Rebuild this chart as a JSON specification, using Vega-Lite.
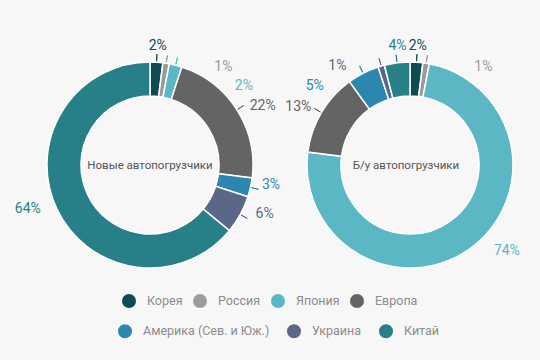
{
  "$schema": "https://vega.github.io/schema/vega-lite/v6.json",
  "background": "#f7f7f7",
  "padding": {"left": 0, "top": 0, "right": 20, "bottom": 22},
  "bounds": "flush",
  "spacing": 0,
  "config": {
    "view": {"stroke": null},
    "text": {"font": "Roboto"}
  },
  "datasets": {
    "newTrucks": [
      {"cat": "Корея", "i": 1, "v": 0.02},
      {"cat": "Россия", "i": 2, "v": 0.01},
      {"cat": "Япония", "i": 3, "v": 0.02},
      {"cat": "Европа", "i": 4, "v": 0.22},
      {"cat": "Америка (Сев. и Юж.)", "i": 5, "v": 0.03},
      {"cat": "Украина", "i": 6, "v": 0.06},
      {"cat": "Китай", "i": 7, "v": 0.64}
    ],
    "usedTrucks": [
      {"cat": "Корея", "i": 1, "v": 0.02},
      {"cat": "Россия", "i": 2, "v": 0.01},
      {"cat": "Япония", "i": 3, "v": 0.74},
      {"cat": "Европа", "i": 4, "v": 0.13},
      {"cat": "Америка (Сев. и Юж.)", "i": 5, "v": 0.05},
      {"cat": "Украина", "i": 6, "v": 0.01},
      {"cat": "Китай", "i": 7, "v": 0.04}
    ]
  },
  "resolve": {
    "scale": {"color": "shared", "stroke": "shared"},
    "legend": {"color": "shared", "stroke": "shared"}
  },
  "hconcat": [
    {
      "width": 300,
      "height": 330,
      "data": {"name": "newTrucks"},
      "layer": [
        {
          "mark": {"type": "arc", "radius": 103, "radius2": 69, "stroke": "#ffffff", "strokeWidth": 1.5},
          "encoding": {
            "theta": {"field": "v", "type": "quantitative", "stack": true},
            "order": {"field": "i", "type": "quantitative"},
            "color": {
              "field": "cat", "type": "nominal",
              "scale": {
                "domain": ["Корея", "Россия", "Япония", "Европа", "Америка (Сев. и Юж.)", "Украина", "Китай"],
                "range": ["#0e4b55", "#9b9b9b", "#5bb7c3", "#646464", "#2c87b0", "#5a6787", "#277f88"]
              },
              "legend": {
                "values": ["Корея", "Россия", "Япония", "Европа"],
                "orient": "none", "legendX": 122, "legendY": 294, "direction": "horizontal",
                "symbolType": "circle", "symbolSize": 196, "symbolStrokeWidth": 0,
                "labelFont": "Roboto", "labelFontSize": 12.5, "labelColor": "#8c8c8c", "labelOffset": 11,
                "columnPadding": 10, "title": null, "padding": 0
              }
            }
          }
        },
        {
          "mark": {"type": "arc", "radius": 111, "radius2": 104, "padAngle": 3, "filled": false, "strokeWidth": 1},
          "encoding": {
            "theta": {"field": "v", "type": "quantitative", "stack": true},
            "order": {"field": "i", "type": "quantitative"},
            "stroke": {
              "field": "cat", "type": "nominal",
              "scale": {
                "domain": ["Америка (Сев. и Юж.)", "Украина", "Китай", "Корея", "Россия", "Япония", "Европа"],
                "range": ["#2c87b0", "#5a6787", "#277f88", "#0e4b55", "#9b9b9b", "#5bb7c3", "#646464"]
              },
              "legend": {
                "values": ["Америка (Сев. и Юж.)", "Украина", "Китай"],
                "orient": "none", "legendX": 118, "legendY": 324, "direction": "horizontal",
                "symbolType": "circle", "symbolSize": 49, "symbolStrokeWidth": 7,
                "labelFont": "Roboto", "labelFontSize": 12.5, "labelColor": "#8c8c8c", "labelOffset": 11,
                "columnPadding": 6, "title": null, "padding": 0
              }
            },
            "strokeOpacity": {"condition": {"test": "datum.v > 0.5", "value": 0}, "value": 1}
          }
        },
        {
          "mark": {"type": "text", "radius": 124, "dx": 0, "dy": 5, "fontSize": 14},
          "encoding": {
            "theta": {"field": "v", "type": "quantitative", "stack": true},
            "order": {"field": "i", "type": "quantitative"},
            "color": {"field": "cat", "type": "nominal", "legend": null},
            "text": {"condition": {"test": "datum.cat === 'Корея'", "field": "v", "type": "quantitative", "format": ".0%"}, "value": ""}
          }
        },
        {
          "mark": {"type": "text", "radius": 124, "dx": 54, "dy": 24, "fontSize": 14},
          "encoding": {
            "theta": {"field": "v", "type": "quantitative", "stack": true},
            "order": {"field": "i", "type": "quantitative"},
            "color": {"field": "cat", "type": "nominal", "legend": null},
            "text": {"condition": {"test": "datum.cat === 'Россия'", "field": "v", "type": "quantitative", "format": ".0%"}, "value": ""}
          }
        },
        {
          "mark": {"type": "text", "radius": 124, "dx": 63, "dy": 41, "fontSize": 14},
          "encoding": {
            "theta": {"field": "v", "type": "quantitative", "stack": true},
            "order": {"field": "i", "type": "quantitative"},
            "color": {"field": "cat", "type": "nominal", "legend": null},
            "text": {"condition": {"test": "datum.cat === 'Япония'", "field": "v", "type": "quantitative", "format": ".0%"}, "value": ""}
          }
        },
        {
          "mark": {"type": "text", "radius": 124, "dx": 8, "dy": 7, "fontSize": 14},
          "encoding": {
            "theta": {"field": "v", "type": "quantitative", "stack": true},
            "order": {"field": "i", "type": "quantitative"},
            "color": {"field": "cat", "type": "nominal", "legend": null},
            "text": {"condition": {"test": "datum.cat === 'Европа'", "field": "v", "type": "quantitative", "format": ".0%"}, "value": ""}
          }
        },
        {
          "mark": {"type": "text", "radius": 124, "dx": 0, "dy": -7, "fontSize": 14},
          "encoding": {
            "theta": {"field": "v", "type": "quantitative", "stack": true},
            "order": {"field": "i", "type": "quantitative"},
            "color": {"field": "cat", "type": "nominal", "legend": null},
            "text": {"condition": {"test": "datum.cat === 'Америка (Сев. и Юж.)'", "field": "v", "type": "quantitative", "format": ".0%"}, "value": ""}
          }
        },
        {
          "mark": {"type": "text", "radius": 124, "dx": 6, "dy": -11, "fontSize": 14},
          "encoding": {
            "theta": {"field": "v", "type": "quantitative", "stack": true},
            "order": {"field": "i", "type": "quantitative"},
            "color": {"field": "cat", "type": "nominal", "legend": null},
            "text": {"condition": {"test": "datum.cat === 'Украина'", "field": "v", "type": "quantitative", "format": ".0%"}, "value": ""}
          }
        },
        {
          "mark": {"type": "text", "radius": 124, "dx": -10, "dy": -9, "fontSize": 14},
          "encoding": {
            "theta": {"field": "v", "type": "quantitative", "stack": true},
            "order": {"field": "i", "type": "quantitative"},
            "color": {"field": "cat", "type": "nominal", "legend": null},
            "text": {"condition": {"test": "datum.cat === 'Китай'", "field": "v", "type": "quantitative", "format": ".0%"}, "value": ""}
          }
        },
        {
          "data": {"values": [{"t": "Новые автопогрузчики"}]},
          "mark": {"type": "text", "fontSize": 11.5, "color": "#555555", "dy": 1},
          "encoding": {"text": {"field": "t"}}
        }
      ]
    },
    {
      "width": 220,
      "height": 330,
      "data": {"name": "usedTrucks"},
      "layer": [
        {
          "mark": {"type": "arc", "radius": 103, "radius2": 69, "stroke": "#ffffff", "strokeWidth": 1.5},
          "encoding": {
            "theta": {"field": "v", "type": "quantitative", "stack": true},
            "order": {"field": "i", "type": "quantitative"},
            "color": {"field": "cat", "type": "nominal"}
          }
        },
        {
          "mark": {"type": "arc", "radius": 111, "radius2": 104, "padAngle": 3, "filled": false, "strokeWidth": 1},
          "encoding": {
            "theta": {"field": "v", "type": "quantitative", "stack": true},
            "order": {"field": "i", "type": "quantitative"},
            "stroke": {"field": "cat", "type": "nominal"},
            "strokeOpacity": {"condition": {"test": "datum.v > 0.5", "value": 0}, "value": 1}
          }
        },
        {
          "mark": {"type": "text", "radius": 124, "dx": 0, "dy": 5, "fontSize": 14},
          "encoding": {
            "theta": {"field": "v", "type": "quantitative", "stack": true},
            "order": {"field": "i", "type": "quantitative"},
            "color": {"field": "cat", "type": "nominal", "legend": null},
            "text": {"condition": {"test": "datum.cat === 'Корея'", "field": "v", "type": "quantitative", "format": ".0%"}, "value": ""}
          }
        },
        {
          "mark": {"type": "text", "radius": 124, "dx": 54, "dy": 24, "fontSize": 14},
          "encoding": {
            "theta": {"field": "v", "type": "quantitative", "stack": true},
            "order": {"field": "i", "type": "quantitative"},
            "color": {"field": "cat", "type": "nominal", "legend": null},
            "text": {"condition": {"test": "datum.cat === 'Россия'", "field": "v", "type": "quantitative", "format": ".0%"}, "value": ""}
          }
        },
        {
          "mark": {"type": "text", "radius": 124, "dx": 24, "dy": -14, "fontSize": 14},
          "encoding": {
            "theta": {"field": "v", "type": "quantitative", "stack": true},
            "order": {"field": "i", "type": "quantitative"},
            "color": {"field": "cat", "type": "nominal", "legend": null},
            "text": {"condition": {"test": "datum.cat === 'Япония'", "field": "v", "type": "quantitative", "format": ".0%"}, "value": ""}
          }
        },
        {
          "mark": {"type": "text", "radius": 124, "dx": -5, "dy": 5, "fontSize": 14},
          "encoding": {
            "theta": {"field": "v", "type": "quantitative", "stack": true},
            "order": {"field": "i", "type": "quantitative"},
            "color": {"field": "cat", "type": "nominal", "legend": null},
            "text": {"condition": {"test": "datum.cat === 'Европа'", "field": "v", "type": "quantitative", "format": ".0%"}, "value": ""}
          }
        },
        {
          "mark": {"type": "text", "radius": 124, "dx": -39, "dy": 31, "fontSize": 14},
          "encoding": {
            "theta": {"field": "v", "type": "quantitative", "stack": true},
            "order": {"field": "i", "type": "quantitative"},
            "color": {"field": "cat", "type": "nominal", "legend": null},
            "text": {"condition": {"test": "datum.cat === 'Америка (Сев. и Юж.)'", "field": "v", "type": "quantitative", "format": ".0%"}, "value": ""}
          }
        },
        {
          "mark": {"type": "text", "radius": 124, "dx": -38, "dy": 20, "fontSize": 14},
          "encoding": {
            "theta": {"field": "v", "type": "quantitative", "stack": true},
            "order": {"field": "i", "type": "quantitative"},
            "color": {"field": "cat", "type": "nominal", "legend": null},
            "text": {"condition": {"test": "datum.cat === 'Украина'", "field": "v", "type": "quantitative", "format": ".0%"}, "value": ""}
          }
        },
        {
          "mark": {"type": "text", "radius": 124, "dx": 3, "dy": 4, "fontSize": 14},
          "encoding": {
            "theta": {"field": "v", "type": "quantitative", "stack": true},
            "order": {"field": "i", "type": "quantitative"},
            "color": {"field": "cat", "type": "nominal", "legend": null},
            "text": {"condition": {"test": "datum.cat === 'Китай'", "field": "v", "type": "quantitative", "format": ".0%"}, "value": ""}
          }
        },
        {
          "data": {"values": [{"t": "Б/у автопогрузчики"}]},
          "mark": {"type": "text", "fontSize": 11.5, "color": "#555555", "dx": -4, "dy": 1},
          "encoding": {"text": {"field": "t"}}
        }
      ]
    }
  ]
}
